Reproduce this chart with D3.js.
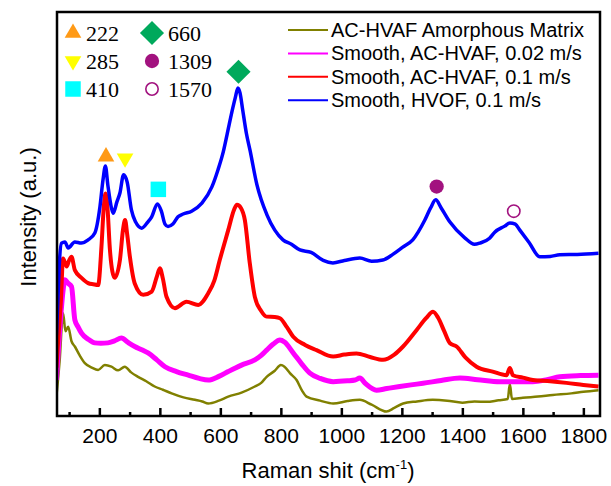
<!DOCTYPE html>
<html>
<head>
<meta charset="utf-8">
<script src="https://cdn.jsdelivr.net/npm/d3@7"></script>
<style>
  body { margin: 0; background: #fff; }
  .tick text { font-family: Arial, "Liberation Sans", sans-serif; }
</style>
</head>
<body>
<div id="chart"></div>
<script>
// Raman spectra, values: [wavenumber (cm-1), intensity (a.u.)]
const amorphousData = [
  [58, 4.8], [69, 13.9], [80, 25.5], [88, 21], [97, 22.1], [108, 18.5], [119, 17.2], [135, 15], [152, 13.1],
  [175, 12], [196, 11.4], [218, 12.6], [240, 12.2], [262, 11.3], [284, 12.2], [305, 10.8], [328, 9.7],
  [355, 8.6], [383, 7.3], [410, 6.5], [439, 5.6], [478, 4.6], [516, 4.0], [540, 3.6], [560, 3.1],
  [595, 3.8], [626, 4.8], [670, 5.8], [714, 7.3], [735, 8.2], [753, 9.7], [780, 11.2], [800, 12.6],
  [812, 12.2], [830, 10.6], [852, 8.9], [870, 6.3], [885, 4.8], [930, 3.8], [973, 3.1], [1020, 3.7],
  [1061, 4.0], [1100, 2.8], [1149, 1.1], [1175, 2.0], [1204, 3.1], [1250, 3.6], [1302, 4.0], [1350, 3.8],
  [1400, 3.3], [1440, 3.6], [1480, 3.5], [1520, 3.9], [1550, 4.2], [1557, 7.9], [1564, 4.2], [1600, 4.5],
  [1650, 4.8], [1699, 5.2], [1760, 5.6], [1800, 6.0], [1850, 6.4]
];
const hvaf002Data = [
  [58, 8.9], [69, 21.3], [80, 31], [86, 33.7], [96, 32.9], [108, 32.0], [119, 23.8], [130, 22], [141, 20.5],
  [163, 19], [185, 18.1], [205, 18], [228, 18.1], [250, 18.6], [273, 19.3], [295, 18.2], [317, 17.2],
  [340, 16.4], [361, 15.6], [390, 13.9], [417, 12.2], [455, 11], [494, 10.1], [530, 9.3], [560, 8.9],
  [595, 9.8], [626, 11.0], [650, 11.9], [670, 12.6], [714, 13.9], [735, 15], [753, 16.3], [775, 17.8],
  [797, 18.8], [812, 18.3], [841, 15.6], [870, 12.8], [896, 10.6], [930, 9.3], [973, 8.5], [1020, 8.7],
  [1045, 8.9], [1061, 9.4], [1080, 8.0], [1116, 6.4], [1150, 6.8], [1193, 7.3], [1230, 7.7], [1270, 8.1],
  [1330, 8.8], [1392, 9.4], [1450, 9.0], [1524, 8.5], [1580, 8.5], [1633, 8.5], [1680, 9.0], [1722, 9.7],
  [1790, 10.0], [1850, 10.1]
];
const hvaf01Data = [
  [58, 12], [64, 18.8], [73, 28.7], [80, 39.0], [92, 37.0], [100, 38.5], [108, 39.4], [119, 36.1],
  [141, 34.2], [163, 32.9], [180, 32.6], [196, 32.4], [207, 41.9], [214, 51], [220, 55.1], [226, 52.5],
  [235, 41.1], [243, 35.8], [251, 34.2], [268, 38.6], [278, 46], [285, 48.5], [292, 45], [301, 39.4],
  [317, 32.8], [345, 30.0], [373, 30.8], [390, 34.5], [400, 36.6], [410, 34], [422, 29.5], [450, 26.7],
  [488, 28.3], [527, 27.5], [560, 30.4], [580, 33.5], [598, 38.6], [626, 46.0], [645, 51], [655, 52.3],
  [668, 51.5], [681, 48.5], [697, 38], [714, 29.5], [735, 26], [753, 24.6], [780, 24.5], [797, 24.2],
  [820, 22], [841, 19.6], [880, 17.6], [918, 16.3], [973, 14.7], [1010, 15.2], [1050, 15.5], [1095, 14.6],
  [1138, 13.9], [1175, 15.2], [1204, 17.2], [1249, 21.3], [1280, 24.2], [1303, 25.8], [1320, 24.3],
  [1340, 21], [1359, 18.0], [1381, 17.2], [1410, 14.5], [1447, 12.2], [1500, 11.0], [1546, 10.1],
  [1557, 11.9], [1567, 10.1], [1600, 9.5], [1633, 8.9], [1690, 8.6], [1744, 8.2], [1800, 7.7], [1850, 7.3]
];
const hvofData = [
  [58, 20], [63, 28.7], [68, 38], [75, 42.8], [86, 43.1], [97, 41.6], [119, 43.1], [140, 42.8],
  [163, 43.6], [185, 45.3], [202, 51.8], [212, 58.4], [220, 61.9], [228, 57.2], [240, 51.5], [246, 50.2],
  [258, 53], [268, 55.2], [280, 59.7], [292, 57.9], [306, 51.0], [320, 48], [340, 46.5], [360, 48],
  [373, 49.3], [392, 52.5], [405, 50.7], [417, 47.5], [427, 46.9], [443, 47.5], [460, 49.3], [477, 50],
  [505, 50.7], [539, 52.7], [572, 56.7], [592, 60.9], [610, 65.5], [622, 69.6], [641, 76.2], [650, 79],
  [658, 81.2], [665, 80], [674, 75.7], [686, 70], [698, 65.8], [721, 57.2], [754, 49.8], [780, 46],
  [807, 43.6], [835, 42.5], [863, 41.1], [900, 40.5], [940, 38.5], [972, 37.9], [1010, 38.5], [1061, 39.1],
  [1100, 38.3], [1137, 38.6], [1170, 40], [1203, 41.8], [1236, 43.6], [1276, 48.5], [1295, 51.5],
  [1312, 53.5], [1330, 51.5], [1359, 48.0], [1408, 44.1], [1440, 42.5], [1458, 42.8], [1490, 44],
  [1507, 45.5], [1540, 47], [1557, 47.8], [1575, 47.5], [1590, 46.0], [1620, 43], [1656, 39.4],
  [1690, 39.5], [1722, 39.9], [1780, 40], [1850, 40.3]
];

const seriesNames = ["AC-HVAF Amorphous Matrix", "Smooth, AC-HVAF, 0.02 m/s", "Smooth, AC-HVAF, 0.1 m/s", "Smooth, HVOF, 0.1 m/s"];
const seriesData = [amorphousData, hvaf002Data, hvaf01Data, hvofData];
const seriesColors = ["#808000", "#ff00ff", "#ff0000", "#0000ff"];
const seriesWidths = [2.5, 5, 4, 3.5];

// peak markers: label, x position, height above the peak
const peakLabels = ["222", "285", "410", "660", "1309", "1570"];
const peakX = [222, 285, 395, 660, 1315, 1570];
const peakY = [64.2, 63.8, 56.1, 85.2, 56.8, 50.7];

const majorTicks = [200, 400, 600, 800, 1000, 1200, 1400, 1600, 1800];
const minorTicks = [100, 300, 500, 700, 900, 1100, 1300, 1500, 1700];

const margin = {top: 12, right: 11, bottom: 70, left: 57},
      width = 611 - margin.left - margin.right,
      height = 486 - margin.top - margin.bottom;

const svg = d3.select("#chart")
  .append("svg")
    .attr("width", 611)
    .attr("height", 486)
  .append("g")
    .attr("transform", `translate(${margin.left},${margin.top})`);

const x = d3.scaleLinear().domain([60, 1855]).range([0, width]);
const y = d3.scaleLinear().domain([0, 100]).range([height, 0]);

svg.append("clipPath").attr("id", "clip")
  .append("rect").attr("width", width).attr("height", height);

// marker styles, shared by the plot and the legend
const markerStyle = [
  {type: d3.symbolTriangle, size: 120, rot: 0, fill: "#ff9a16", stroke: "none"},
  {type: d3.symbolTriangle, size: 120, rot: 180, fill: "#ffff00", stroke: "none"},
  {type: d3.symbolSquare, size: 240, rot: 0, fill: "#00ffff", stroke: "none"},
  {type: d3.symbolSquare, size: 290, rot: 45, fill: "#00a95c", stroke: "none"},
  {type: d3.symbolCircle, size: 160, rot: 0, fill: "#a2127f", stroke: "none"},
  {type: d3.symbolCircle, size: 120, rot: 0, fill: "none", stroke: "#a2127f"}
];

function drawMarker(g, i, cx, cy) {
  const m = markerStyle[i];
  g.append("path")
    .attr("d", d3.symbol().type(m.type).size(m.size)())
    .attr("transform", `translate(${cx},${cy}) rotate(${m.rot})`)
    .attr("fill", m.fill)
    .attr("stroke", m.stroke)
    .attr("stroke-width", 1.6);
}

// spectra
const line = d3.line()
  .x(d => x(d[0]))
  .y(d => y(d[1]))
  .curve(d3.curveMonotoneX);

svg.append("g").attr("clip-path", "url(#clip)")
  .selectAll(".spectrum")
  .data(seriesData)
  .enter().append("path")
    .attr("class", "spectrum")
    .attr("d", line)
    .attr("fill", "none")
    .attr("stroke", (d, i) => seriesColors[i])
    .attr("stroke-width", (d, i) => seriesWidths[i])
    .attr("stroke-linejoin", "round");

// peak markers on the plot
peakX.forEach((v, i) => drawMarker(svg, i, x(v), y(peakY[i])));

// X axis, ticks pointing inside
svg.append("g")
  .attr("transform", `translate(0,${height})`)
  .call(d3.axisBottom(x).tickValues(minorTicks).tickSize(-4).tickFormat(""))
  .call(g => g.select(".domain").remove())
  .selectAll("line").attr("stroke", "#000").attr("stroke-width", 2.5);

svg.append("g")
  .attr("transform", `translate(0,${height})`)
  .call(d3.axisBottom(x).tickValues(majorTicks).tickSize(-8).tickPadding(12).tickFormat(d3.format("d")))
  .call(g => g.select(".domain").remove())
  .call(g => g.selectAll("line").attr("stroke", "#000").attr("stroke-width", 2.5))
  .selectAll("text")
    .style("font-size", "21px")
    .attr("fill", "#000");

// frame
svg.append("rect")
  .attr("width", width)
  .attr("height", height)
  .attr("fill", "none")
  .attr("stroke", "#000")
  .attr("stroke-width", 2.5);

// axis labels
const xLabel = svg.append("text")
  .attr("x", 271)
  .attr("y", height + 62)
  .attr("text-anchor", "middle")
  .style("font-family", "Arial, 'Liberation Sans', sans-serif")
  .style("font-size", "22px")
  .text("Raman shit (cm");
xLabel.append("tspan").attr("dy", -9).style("font-size", "13px").text("-1");
xLabel.append("tspan").attr("dy", 9).text(")");

svg.append("text")
  .attr("transform", "rotate(-90)")
  .attr("x", -205)
  .attr("y", -21)
  .attr("text-anchor", "middle")
  .style("font-family", "Arial, 'Liberation Sans', sans-serif")
  .style("font-size", "22px")
  .text("Intensity (a.u.)");

// marker legend, two columns
const markLegend = svg.append("g");
peakLabels.forEach((lab, i) => {
  const col = Math.floor(i / 3), row = i % 3;
  const mx = col === 0 ? 16 : 95;
  const my = 21 + row * 28;
  drawMarker(markLegend, i, mx, my);
  markLegend.append("text")
    .attr("x", mx + (col === 0 ? 13 : 16))
    .attr("y", my + 8)
    .style("font-family", "'Liberation Serif', 'Times New Roman', serif")
    .style("font-size", "22px")
    .text(lab);
});

// line legend
const lineLegend = svg.append("g");
seriesNames.forEach((name, i) => {
  const ly = 18 + i * 23.4;
  lineLegend.append("line")
    .attr("x1", 231).attr("x2", 271)
    .attr("y1", ly).attr("y2", ly)
    .attr("stroke", seriesColors[i])
    .attr("stroke-width", 2);
  lineLegend.append("text")
    .attr("x", 274)
    .attr("y", ly + 7)
    .style("font-family", "Arial, 'Liberation Sans', sans-serif")
    .style("font-size", "20px")
    .text(name);
});
</script>
</body>
</html>
